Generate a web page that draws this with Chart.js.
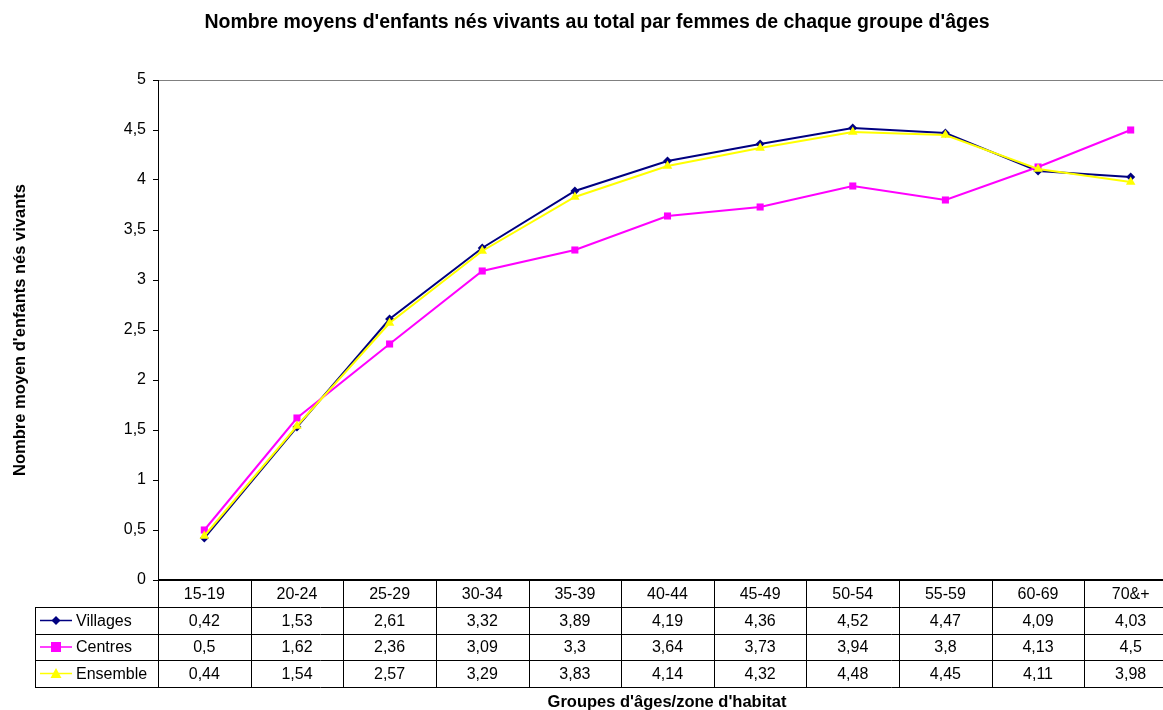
<!DOCTYPE html>
<html>
<head>
<meta charset="utf-8">
<script src="https://cdn.jsdelivr.net/npm/chart.js@4/dist/chart.umd.min.js"></script>
<style>
html,body{margin:0;padding:0;background:#fff;overflow:hidden;}
#wrap{width:1163px;height:710px;position:relative;overflow:hidden;}
</style>
</head>
<body>
<div id="wrap"><canvas id="c" width="1177" height="710"></canvas></div>
<script>
const categories = ['15-19','20-24','25-29','30-34','35-39','40-44','45-49','50-54','55-59','60-69','70&+'];
const seriesNames = ['Villages','Centres','Ensemble'];
const villages = [0.42,1.53,2.61,3.32,3.89,4.19,4.36,4.52,4.47,4.09,4.03];
const centres  = [0.5,1.62,2.36,3.09,3.3,3.64,3.73,3.94,3.8,4.13,4.5];
const ensemble = [0.44,1.54,2.57,3.29,3.83,4.14,4.32,4.48,4.45,4.11,3.98];
const chartTitle = "Nombre moyens d'enfants nés vivants au total par femmes de chaque groupe d'âges";
const yTitle = "Nombre moyen d'enfants nés vivants";
const xTitle = "Groupes d'âges/zone d'habitat";

const FONT = "'Liberation Sans', Arial, sans-serif";
const seriesValues = [villages, centres, ensemble];
const seriesColors = ['#000080', '#FF00FF', '#FFFF00'];
const seriesStyles = ['rectRot', 'rect', 'triangle'];
const seriesRadius = [4.5, 5, 5.5];
const fmt = v => String(v).replace('.', ',');

function drawMarker(ctx, style, x, y, r, color) {
  ctx.save();
  ctx.fillStyle = color;
  ctx.beginPath();
  if (style === 'rectRot') {
    ctx.moveTo(x, y - r); ctx.lineTo(x + r, y); ctx.lineTo(x, y + r); ctx.lineTo(x - r, y);
  } else if (style === 'rect') {
    ctx.rect(x - r, y - r, 2 * r, 2 * r);
  } else {
    ctx.moveTo(x, y - r); ctx.lineTo(x + r, y + r * 0.8); ctx.lineTo(x - r, y + r * 0.8);
  }
  ctx.closePath();
  ctx.fill();
  ctx.restore();
}

const tablePlugin = {
  id: 'tablePlugin',
  afterDraw(chart) {
    const ctx = chart.ctx;
    const area = chart.chartArea;
    const xs = chart.scales.x;
    const left = area.left, right = chart.width, top = area.bottom;
    const rowH = [27, 27, 26, 27];
    const rows = [top];
    rowH.forEach(h => rows.push(rows[rows.length - 1] + h));
    const legLeft = 35;
    const n = categories.length;
    const colW = (xs.right - xs.left) / n;
    ctx.save();
    // title
    ctx.fillStyle = '#000';
    ctx.font = 'bold 19.5px ' + FONT;
    ctx.textAlign = 'center';
    ctx.textBaseline = 'middle';
    ctx.fillText(chartTitle, 597, 23);
    // y title
    ctx.save();
    ctx.translate(20, (area.top + area.bottom) / 2);
    ctx.rotate(-Math.PI / 2);
    ctx.font = 'bold 16.5px ' + FONT;
    ctx.fillText(yTitle, 0, 0);
    ctx.restore();
    // x title
    ctx.font = 'bold 16.5px ' + FONT;
    ctx.fillText(xTitle, 667, 702);

    // grid lines of table
    ctx.strokeStyle = '#000';
    ctx.lineWidth = 1;
    ctx.beginPath();
    for (let r = 1; r < rows.length; r++) {
      ctx.moveTo(legLeft, rows[r] + 0.5); ctx.lineTo(right, rows[r] + 0.5);
    }
    ctx.moveTo(left + 0.5, rows[0]); ctx.lineTo(left + 0.5, rows[rows.length - 1]);
    ctx.moveTo(legLeft + 0.5, rows[1]); ctx.lineTo(legLeft + 0.5, rows[rows.length - 1]);
    for (let i = 1; i <= n; i++) {
      const x = Math.round(xs.left + i * colW) + 0.5;
      ctx.moveTo(x, rows[0]); ctx.lineTo(x, rows[rows.length - 1]);
    }
    ctx.stroke();
    ctx.lineWidth = 2;
    ctx.beginPath();
    ctx.moveTo(left, rows[0]); ctx.lineTo(right, rows[0]);
    ctx.stroke();

    // header labels
    ctx.font = '16px ' + FONT;
    ctx.fillStyle = '#000';
    ctx.textAlign = 'center';
    categories.forEach((c, i) => {
      ctx.fillText(c, xs.getPixelForValue(i), (rows[0] + rows[1]) / 2 + 1);
    });
    // data rows
    seriesNames.forEach((name, s) => {
      const cy = (rows[s + 1] + rows[s + 2]) / 2 + 1;
      seriesValues[s].forEach((v, i) => {
        ctx.fillStyle = '#000';
        ctx.textAlign = 'center';
        ctx.fillText(fmt(v), xs.getPixelForValue(i), cy);
      });
      ctx.strokeStyle = seriesColors[s];
      ctx.lineWidth = 1.5;
      ctx.beginPath();
      ctx.moveTo(40, cy - 1); ctx.lineTo(72, cy - 1);
      ctx.stroke();
      drawMarker(ctx, seriesStyles[s], 56, cy - 1, seriesRadius[s], seriesColors[s]);
      ctx.fillStyle = '#000';
      ctx.textAlign = 'left';
      ctx.fillText(name, 76, cy);
    });
    ctx.restore();
  }
};

const datasets = seriesNames.map((name, s) => ({
  label: name,
  data: seriesValues[s],
  borderColor: seriesColors[s],
  backgroundColor: seriesColors[s],
  borderWidth: 2,
  pointStyle: seriesStyles[s],
  pointRadius: seriesRadius[s],
  pointHoverRadius: seriesRadius[s],
  pointBorderWidth: 0,
  tension: 0,
  clip: false,
  order: 2 - s
}));

new Chart(document.getElementById('c'), {
  type: 'line',
  data: { labels: categories, datasets },
  options: {
    responsive: false,
    animation: false,
    devicePixelRatio: 1,
    layout: { autoPadding: false, padding: { left: 0, top: 80, right: 0, bottom: 130 } },
    plugins: {
      legend: { display: false },
      title: { display: false },
      tooltip: { enabled: false }
    },
    scales: {
      x: {
        type: 'category',
        display: false,
        offset: true,
        afterFit(scale) { scale.paddingLeft = 0; scale.paddingRight = 0; }
      },
      y: {
        min: 0, max: 5,
        afterFit(scale) { scale.width = 158; },
        ticks: {
          stepSize: 0.5,
          color: '#000',
          font: { family: FONT, size: 16 },
          padding: 7,
          callback: v => fmt(v)
        },
        grid: {
          color: ctx => (ctx.tick && ctx.tick.value === 5) ? '#808080' : 'rgba(0,0,0,0)',
          tickColor: '#000',
          tickLength: 5,
          drawTicks: true
        },
        border: { display: true, color: '#000', width: 1 }
      }
    }
  },
  plugins: [tablePlugin]
});
</script>
</body>
</html>
